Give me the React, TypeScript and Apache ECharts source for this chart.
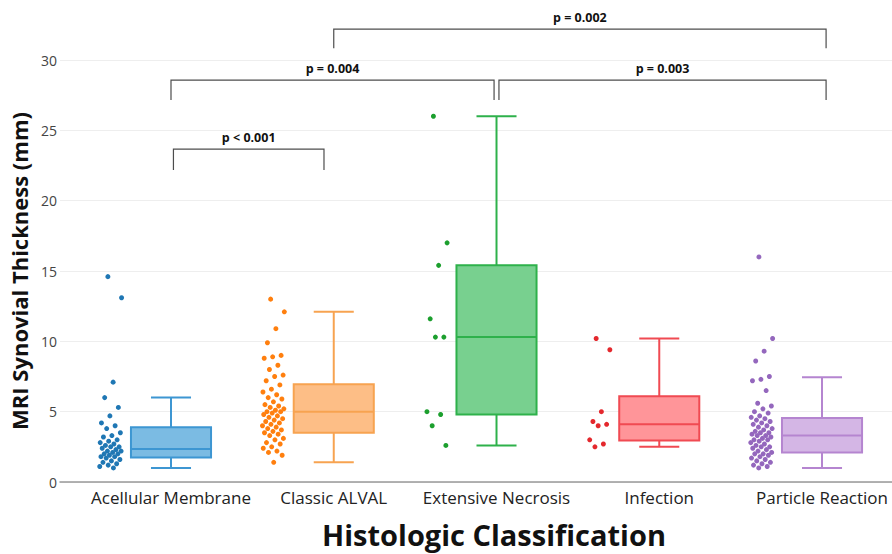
import React, { useEffect, useRef } from "react";
import * as echarts from "echarts";

const categories = [
  "Acellular Membrane",
  "Classic ALVAL",
  "Extensive Necrosis",
  "Infection",
  "Particle Reaction",
];

const acellularMembrane = [
  14.6, 13.1, 7.1, 6.0, 5.3, 4.7, 4.2, 4.0, 3.8, 3.5, 3.3, 3.2, 3.0, 2.9, 2.8, 2.7, 2.6, 2.5, 2.5,
  2.4, 2.3, 2.2, 2.2, 2.1, 2.0, 2.0, 1.9, 1.8, 1.8, 1.7, 1.6, 1.5, 1.4, 1.3, 1.2, 1.1, 1.0,
];
const classicAlval = [
  13.0, 12.1, 10.9, 9.9, 9.0, 8.9, 8.8, 8.3, 8.0, 7.6, 7.5, 7.2, 6.9, 6.6, 6.4, 6.2, 6.0, 5.9, 5.7,
  5.5, 5.4, 5.3, 5.2, 5.1, 5.0, 5.0, 4.9, 4.8, 4.7, 4.6, 4.5, 4.4, 4.3, 4.2, 4.1, 4.0, 3.9, 3.8,
  3.7, 3.6, 3.5, 3.4, 3.3, 3.1, 3.0, 2.8, 2.7, 2.5, 2.4, 2.2, 2.1, 1.9, 1.4,
];
const extensiveNecrosis = [26.0, 17.0, 15.4, 11.6, 10.3, 10.3, 5.0, 4.8, 4.0, 2.6];
const infection = [10.2, 9.4, 5.0, 4.3, 4.1, 4.0, 3.0, 2.7, 2.5];
const particleReaction = [
  16.0, 10.2, 9.3, 8.6, 7.5, 7.3, 7.2, 6.5, 5.6, 5.4, 5.2, 5.0, 4.9, 4.7, 4.6, 4.5, 4.4, 4.3, 4.2,
  4.1, 4.0, 3.9, 3.8, 3.7, 3.6, 3.5, 3.5, 3.4, 3.3, 3.3, 3.2, 3.1, 3.0, 3.0, 2.9, 2.8, 2.7, 2.6,
  2.5, 2.5, 2.4, 2.3, 2.2, 2.1, 2.0, 2.0, 1.9, 1.8, 1.7, 1.6, 1.5, 1.4, 1.3, 1.2, 1.1, 1.0,
];

// box statistics: min (lower whisker), Q1, median, Q3, max (upper whisker)
const boxMin = [1.0, 1.4, 2.6, 2.5, 1.0];
const boxQ1 = [1.75, 3.5, 4.8, 2.95, 2.1];
const boxMedian = [2.35, 5.0, 10.3, 4.1, 3.3];
const boxQ3 = [3.9, 6.95, 15.4, 6.1, 4.55];
const boxMax = [6.0, 12.1, 26.0, 10.2, 7.45];

// significance brackets
const bracketLabels = ["p < 0.001", "p = 0.004", "p = 0.003", "p = 0.002"];
const bracketFrom = [0.015, 0, 2.015, 1];
const bracketTo = [0.94, 1.985, 4.025, 4.025];
const bracketTop = [23.67, 28.57, 28.57, 32.19];
const bracketEnd = [22.18, 27.15, 27.15, 30.84];

const pointColors = ["#1f77b4", "#ff7f0e", "#1c9f2e", "#e4282d", "#9467bd"];
const boxLineColors = ["#3d96d2", "#f7a350", "#2eb14b", "#f04a52", "#b585d0"];
const boxFillColors = ["#7bbbe3", "#fdbe86", "#78d08f", "#ff9599", "#d4b6e5"];

const POINT_OFFSET = -0.37;
const JITTER = 0.068;
// deterministic low-discrepancy horizontal spread (golden-ratio sequence)
const jitter = (j: number) => {
  const f = (j * 0.6180339887 + 0.37) % 1;
  return (f - 0.5) * 2 * JITTER;
};

export default function App() {
  const ref = useRef<HTMLDivElement>(null);

  useEffect(() => {
    const chart = echarts.init(ref.current!, null, { renderer: "svg" });
    const groups = [acellularMembrane, classicAlval, extensiveNecrosis, infection, particleReaction];

    const scatterSeries = groups.map((vals, i) => ({
      type: "scatter",
      name: categories[i],
      data: vals.map((v, j) => [i + POINT_OFFSET + jitter(j), v]),
      symbolSize: 5,
      itemStyle: { color: pointColors[i], opacity: 1 },
      z: 4,
    }));

    const boxSeries = {
      type: "custom",
      name: "box",
      data: categories.map((_, i) => [i, boxMin[i], boxQ1[i], boxMedian[i], boxQ3[i], boxMax[i]]),
      encode: { x: 0, y: [1, 2, 3, 4, 5] },
      clip: false,
      z: 3,
      renderItem: (params: any, api: any) => {
        const i = params.dataIndex;
        const x = api.value(0);
        const pMin = api.coord([x, api.value(1)]);
        const pQ1 = api.coord([x, api.value(2)]);
        const pMed = api.coord([x, api.value(3)]);
        const pQ3 = api.coord([x, api.value(4)]);
        const pMax = api.coord([x, api.value(5)]);
        const unit = api.size([1, 0])[0];
        const half = unit * 0.246;
        const capHalf = unit * 0.123;
        const cx = pMed[0];
        const stroke = { stroke: boxLineColors[i], lineWidth: 2, fill: null };
        return {
          type: "group",
          children: [
            { type: "line", shape: { x1: cx, y1: pMin[1], x2: cx, y2: pQ1[1] }, style: stroke },
            { type: "line", shape: { x1: cx, y1: pQ3[1], x2: cx, y2: pMax[1] }, style: stroke },
            { type: "line", shape: { x1: cx - capHalf, y1: pMin[1], x2: cx + capHalf, y2: pMin[1] }, style: stroke },
            { type: "line", shape: { x1: cx - capHalf, y1: pMax[1], x2: cx + capHalf, y2: pMax[1] }, style: stroke },
            {
              type: "rect",
              shape: { x: cx - half, y: pQ3[1], width: 2 * half, height: pQ1[1] - pQ3[1] },
              style: { fill: boxFillColors[i], stroke: boxLineColors[i], lineWidth: 2 },
            },
            { type: "line", shape: { x1: cx - half, y1: pMed[1], x2: cx + half, y2: pMed[1] }, style: stroke },
          ],
        };
      },
    };

    const bracketSeries = {
      type: "custom",
      name: "brackets",
      data: bracketFrom.map((f, k) => [f, bracketTo[k], bracketTop[k], bracketEnd[k]]),
      encode: { x: [0, 1], y: [2, 3] },
      clip: false,
      z: 5,
      renderItem: (params: any, api: any) => {
        const k = params.dataIndex;
        const a = api.coord([api.value(0), api.value(2)]);
        const b = api.coord([api.value(1), api.value(2)]);
        const aEnd = api.coord([api.value(0), api.value(3)]);
        const bEnd = api.coord([api.value(1), api.value(3)]);
        return {
          type: "group",
          children: [
            {
              type: "polyline",
              shape: { points: [aEnd, a, b, bEnd] },
              style: { stroke: "#4d4d4d", lineWidth: 1.2, fill: null },
            },
            {
              type: "text",
              style: {
                text: bracketLabels[k],
                x: (a[0] + b[0]) / 2,
                y: a[1] - 12,
                align: "center",
                verticalAlign: "middle",
                fontFamily: "Open Sans",
                fontWeight: "bold",
                fontSize: 12.5,
                fill: "#111",
              },
            },
          ],
        };
      },
    };

    chart.setOption({
      animation: false,
      textStyle: { fontFamily: "Open Sans" },
      grid: { left: 60, right: 0, top: 60, bottom: 72, containLabel: false },
      xAxis: {
        type: "value",
        min: -0.682,
        max: 4.43,
        name: "Histologic Classification",
        nameLocation: "middle",
        nameGap: 38,
        nameTextStyle: {
          fontFamily: "Open Sans",
          fontSize: 29,
          fontWeight: "bold",
          color: "#111",
          padding: [0, 0, 0, 36],
        },
        axisLine: { show: true, lineStyle: { color: "#999", width: 1.5 } },
        axisTick: { show: false },
        splitLine: { show: false },
        axisLabel: {
          customValues: [0, 1, 2, 3, 4],
          formatter: (v: number) => categories[Math.round(v)] ?? "",
          fontFamily: "Open Sans",
          fontSize: 17,
          color: "#222",
          margin: 7,
        },
      },
      yAxis: {
        type: "value",
        min: 0,
        max: 30,
        interval: 5,
        name: "MRI Synovial Thickness (mm)",
        nameLocation: "middle",
        nameGap: 26,
        nameTextStyle: {
          fontFamily: "Open Sans",
          fontSize: 22,
          fontWeight: "bold",
          color: "#111",
        },
        axisLine: { show: false },
        axisTick: { show: false },
        splitLine: { show: true, lineStyle: { color: "#eeeeee", width: 1 } },
        axisLabel: { fontFamily: "Open Sans", fontSize: 14, color: "#444", margin: 3 },
      },
      series: [boxSeries, ...scatterSeries, bracketSeries],
    });

    return () => chart.dispose();
  }, []);

  return (
    <div
      ref={ref}
      style={{ position: "fixed", left: 0, top: 0, width: 892, height: 554, background: "#fff" }}
    />
  );
}
